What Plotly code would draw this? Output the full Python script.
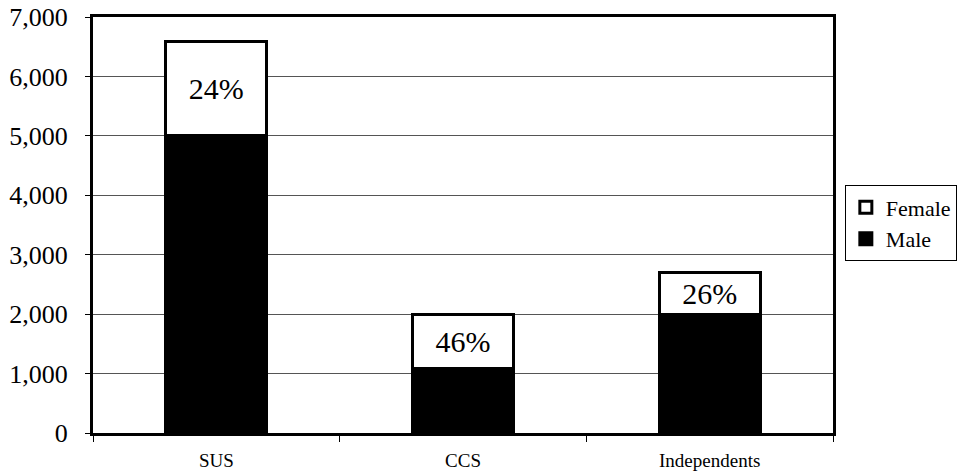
import plotly.graph_objects as go

# Enrolment by sector, split by gender
categories = ["SUS", "CCS", "Independents"]
male = [5000, 1080, 2000]
female = [1580, 920, 700]
y_ticks = [0, 1000, 2000, 3000, 4000, 5000, 6000, 7000]

# Female share of each bar, shown inside the female segment
female_pct = [f"{round(f / (m + f) * 100)}%" for m, f in zip(male, female)]

FONT = "Liberation Serif"

fig = go.Figure()
fig.add_trace(go.Bar(
    x=categories, y=male, name="Male",
    marker=dict(color="black", line=dict(color="black", width=3)),
    width=0.41,
))
fig.add_trace(go.Bar(
    x=categories, y=female, name="Female",
    marker=dict(color="white", line=dict(color="black", width=3)),
    width=0.41,
    text=female_pct, textposition="inside", insidetextanchor="middle",
    constraintext="none",
    textfont=dict(family=FONT, size=30, color="black"),
))

fig.update_layout(
    template="none",
    barmode="stack",
    width=961, height=476,
    margin=dict(l=93, r=128, t=17, b=43, autoexpand=False),
    paper_bgcolor="white", plot_bgcolor="white",
    font=dict(family=FONT, color="black"),
    showlegend=True,
    legend=dict(
        traceorder="reversed",
        x=1.016, xanchor="left", y=0.504, yanchor="middle",
        bgcolor="white", bordercolor="black", borderwidth=1,
        font=dict(family=FONT, size=22, color="black"),
        itemwidth=30, tracegroupgap=0,
    ),
    xaxis=dict(
        type="category",
        automargin=False,
        showline=True, linecolor="black", linewidth=3, mirror=True,
        ticks="outside", tickson="boundaries", ticklen=6, tickcolor="black",
        ticklabelstandoff=8,
        tickfont=dict(family=FONT, size=19, color="black"),
        showgrid=False,
    ),
    yaxis=dict(
        range=[0, 7000],
        automargin=False,
        tickvals=y_ticks,
        tickformat=",d",
        showline=True, linecolor="black", linewidth=3, mirror=True,
        ticks="outside", ticklen=5, tickcolor="black",
        ticklabelstandoff=12,
        tickfont=dict(family=FONT, size=26, color="black"),
        showgrid=True, gridcolor="#555555", gridwidth=1,
        zeroline=False,
    ),
)

fig.write_html("out.html")
